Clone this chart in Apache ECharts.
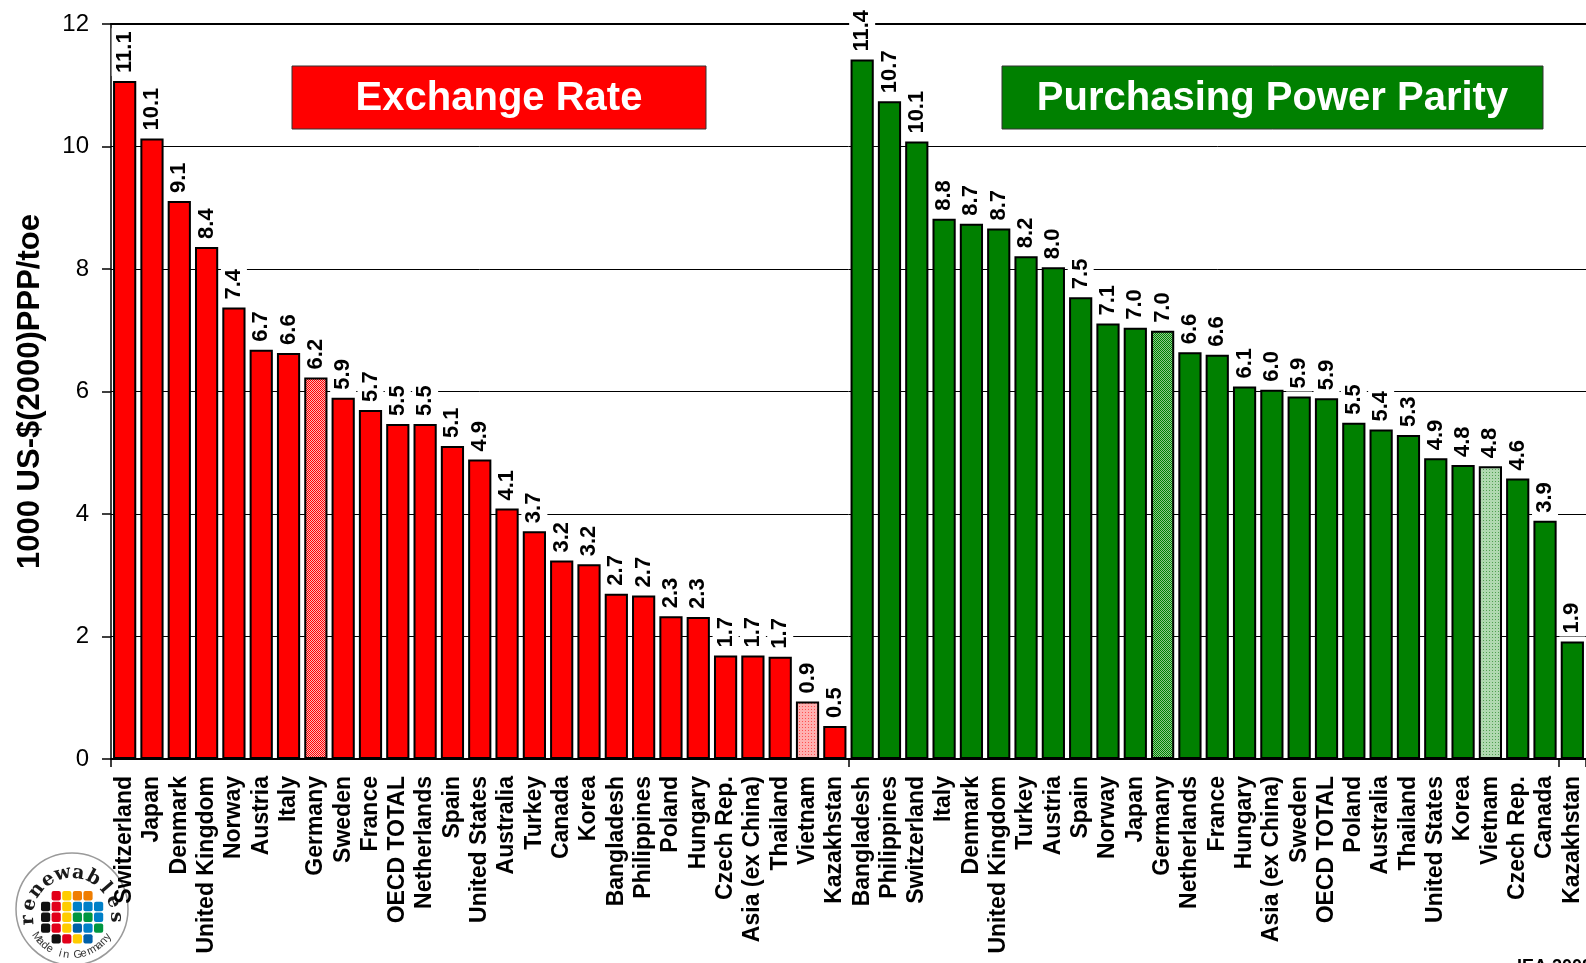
<!DOCTYPE html>
<html><head><meta charset="utf-8">
<script src="https://cdn.jsdelivr.net/npm/echarts@6/dist/echarts.min.js"></script>
<style>html,body{margin:0;padding:0;background:#fff}#c{width:1586px;height:963px}</style>
</head><body><div id="c"></div>
<script>
// ---------- data ----------
const erCountries = ['Switzerland','Japan','Denmark','United Kingdom','Norway','Austria','Italy','Germany','Sweden','France','OECD TOTAL','Netherlands','Spain','United States','Australia','Turkey','Canada','Korea','Bangladesh','Philippines','Poland','Hungary','Czech Rep.','Asia (ex China)','Thailand','Vietnam','Kazakhstan'];
const erValues = [11.07,10.13,9.11,8.36,7.37,6.68,6.63,6.23,5.90,5.70,5.47,5.47,5.11,4.89,4.09,3.72,3.24,3.18,2.70,2.67,2.33,2.32,1.69,1.69,1.67,0.94,0.54];
const pppCountries = ['Bangladesh','Philippines','Switzerland','Italy','Denmark','United Kingdom','Turkey','Austria','Spain','Norway','Japan','Germany','Netherlands','France','Hungary','Asia (ex China)','Sweden','OECD TOTAL','Poland','Australia','Thailand','United States','Korea','Vietnam','Czech Rep.','Canada','Kazakhstan'];
const pppValues = [11.42,10.74,10.08,8.82,8.74,8.66,8.21,8.03,7.54,7.11,7.04,6.99,6.64,6.60,6.08,6.03,5.92,5.89,5.49,5.38,5.29,4.91,4.80,4.78,4.58,3.89,1.92];
const yTicks = [0,2,4,6,8,10,12];
const yAxisTitle = '1000 US-$(2000)PPP/toe';
const panelTitles = ['Exchange Rate','Purchasing Power Parity'];
const hatchedDense = 'Germany';
const hatchedLight = 'Vietnam';
const sourceNote = 'IEA 2008';
const logoTop = 'renewables';
const logoBottom = 'Made in Germany';

// ---------- helpers ----------
const FONT = '"Liberation Sans", Arial, Helvetica, sans-serif';
function checker(a, b) {
  const c = document.createElement('canvas'); c.width = 2; c.height = 2;
  const g = c.getContext('2d');
  g.fillStyle = b; g.fillRect(0,0,2,2);
  g.fillStyle = a; g.fillRect(0,0,1,1); g.fillRect(1,1,1,1);
  return {image: c, repeat: 'repeat'};
}
function dots(base, dot) {
  const c = document.createElement('canvas'); c.width = 3; c.height = 3;
  const g = c.getContext('2d');
  g.fillStyle = base; g.fillRect(0,0,3,3);
  g.fillStyle = dot; g.fillRect(1,1,1,1);
  return {image: c, repeat: 'repeat'};
}
const RED = '#ff0000', GREEN = '#008000';
const redDense = checker(RED, '#ffb8b8');
const redLight = dots('#ffb0b0', '#ff5050');
const greenDense = checker(GREEN, '#90c890');
const greenLight = dots('#b0d8b0', '#50a050');

const categories = erCountries.concat(pppCountries);
const nulls = n => Array(n).fill('-');
function items(names, vals, dense, light) {
  return vals.map((v, i) => {
    const it = {value: v};
    if (names[i] === hatchedDense) it.itemStyle = {color: dense};
    if (names[i] === hatchedLight) it.itemStyle = {color: light};
    return it;
  });
}
const erData = items(erCountries, erValues, redDense, redLight).concat(nulls(pppCountries.length));
const pppData = nulls(erCountries.length).concat(items(pppCountries, pppValues, greenDense, greenLight));

const valueLabel = {
  show: true, position: 'top', rotate: 90, align: 'left', verticalAlign: 'middle',
  distance: 5, fontSize: 22, fontWeight: 'bold', fontFamily: FONT, color: '#000',
  backgroundColor: '#fff', padding: [1, 3], lineHeight: 24,
  formatter: p => Number(p.value).toFixed(1)
};

// ---------- logo ----------
const logo = [];
const lcx = 72, lcy = 909;
logo.push({type: 'circle', z: -1, shape: {cx: lcx, cy: lcy, r: 56}, style: {fill: '#fff', stroke: '#9a9a9a', lineWidth: 1.5}});
const globeColors = [
  [null, '#e2001a', '#ffcc00', '#ef7d00', '#ef7d00', null],
  ['#111', '#e2001a', '#ffcc00', '#0080c8', '#0080c8', '#0080c8'],
  ['#111', '#e2001a', '#ffcc00', '#009640', '#009640', '#0080c8'],
  ['#111', '#e2001a', '#ffcc00', '#0060a8', '#0080c8', '#009640'],
  [null, '#111', '#e2001a', '#ffcc00', '#0060a8', null]
];
globeColors.forEach((row, r) => row.forEach((col, c) => {
  if (!col) return;
  logo.push({type: 'rect', z: -1, shape: {x: 41 + c * 10.6, y: 891 + r * 10.8, width: 9.2, height: 9.4, r: 2}, style: {fill: col}});
}));
const topChars = logoTop.split('');
topChars.forEach((ch, i) => {
  const deg = 184 - i * (184 / (topChars.length - 1));
  const t = deg * Math.PI / 180, R = 44, cy0 = 917;
  logo.push({type: 'text', z: -1, x: lcx + R * Math.cos(t), y: cy0 - R * Math.sin(t), rotation: (deg - 90) * Math.PI / 180,
    style: {text: ch, x: 0, y: 0, align: 'center', verticalAlign: 'middle', textAlign: 'center', textVerticalAlign: 'middle',
      fontSize: 19, fontWeight: 'bold', fontFamily: '"DejaVu Serif", serif', fill: '#1a1a1a'}});
});
const botChars = logoBottom.split('');
botChars.forEach((ch, i) => {
  const deg = 215 + i * (110 / (botChars.length - 1));
  const t = deg * Math.PI / 180, R = 43, cy0 = 912;
  logo.push({type: 'text', z: -1, x: lcx + R * Math.cos(t), y: cy0 - R * Math.sin(t), rotation: (deg - 270) * Math.PI / 180,
    style: {text: ch, x: 0, y: 0, align: 'center', verticalAlign: 'middle', textAlign: 'center', textVerticalAlign: 'middle',
      fontSize: 11, fontFamily: FONT, fill: '#333'}});
});

// ---------- chart ----------
const chart = echarts.init(document.getElementById('c'), null, {renderer: 'canvas'});
chart.setOption({
  animation: false,
  backgroundColor: '#fff',
  grid: {left: 111, top: 24, width: 1483, height: 735, containLabel: false},
  xAxis: [{
    type: 'category', data: categories, position: 'bottom',
    axisLine: {show: true, lineStyle: {color: '#000', width: 2}},
    axisTick: {show: true, interval: erCountries.length - 1, length: 8, lineStyle: {color: '#000', width: 1.5}},
    axisLabel: {interval: 0, rotate: 90, margin: 17, fontSize: 23, fontWeight: 'bold', fontFamily: FONT, color: '#000'},
    splitLine: {show: false}
  }, {
    type: 'category', data: categories, position: 'top',
    axisLine: {show: true, onZero: false, lineStyle: {color: '#000', width: 2}},
    axisTick: {show: false}, axisLabel: {show: false}, splitLine: {show: false}
  }],
  yAxis: {
    type: 'value', min: yTicks[0], max: yTicks[yTicks.length - 1], interval: yTicks[1] - yTicks[0],
    name: yAxisTitle, nameLocation: 'middle', nameGap: 65, nameRotate: 90,
    nameTextStyle: {fontSize: 31, fontWeight: 'bold', fontFamily: FONT, color: '#000'},
    axisLine: {show: true, lineStyle: {color: '#000', width: 1.5}},
    axisTick: {show: true, length: 9, lineStyle: {color: '#000', width: 1.5}},
    axisLabel: {margin: 22, fontSize: 24, fontFamily: FONT, color: '#000'},
    splitLine: {show: true, lineStyle: {color: '#000', width: 1}}
  },
  series: [{
    name: panelTitles[0], type: 'bar', data: erData, barWidth: '85%', barGap: '-100%',
    itemStyle: {color: RED, borderColor: '#000', borderWidth: 2},
    label: valueLabel
  }, {
    name: panelTitles[1], type: 'bar', data: pppData, barWidth: '85%', barGap: '-100%',
    itemStyle: {color: GREEN, borderColor: '#000', borderWidth: 2},
    label: valueLabel
  }],
  graphic: [
    {type: 'rect', shape: {x: 292, y: 66, width: 414, height: 63}, style: {fill: RED, stroke: '#333', lineWidth: 1}},
    {type: 'text', x: 499, y: 99, style: {text: panelTitles[0], x: 0, y: 0, align: 'center', verticalAlign: 'middle', textAlign: 'center', textVerticalAlign: 'middle', fontSize: 40, fontWeight: 'bold', fontFamily: FONT, fill: '#fff'}},
    {type: 'rect', shape: {x: 1002, y: 66, width: 541, height: 63}, style: {fill: GREEN, stroke: '#333', lineWidth: 1}},
    {type: 'text', x: 1272.5, y: 99, style: {text: panelTitles[1], x: 0, y: 0, align: 'center', verticalAlign: 'middle', textAlign: 'center', textVerticalAlign: 'middle', fontSize: 40, fontWeight: 'bold', fontFamily: FONT, fill: '#fff'}},
    {type: 'text', x: 1517, y: 958, style: {text: sourceNote, x: 0, y: 0, align: 'left', verticalAlign: 'top', textAlign: 'left', textVerticalAlign: 'top', fontSize: 18, fontWeight: 'bold', fontFamily: FONT, fill: '#000'}}
  ].concat(logo)
});
</script>
</body></html>
